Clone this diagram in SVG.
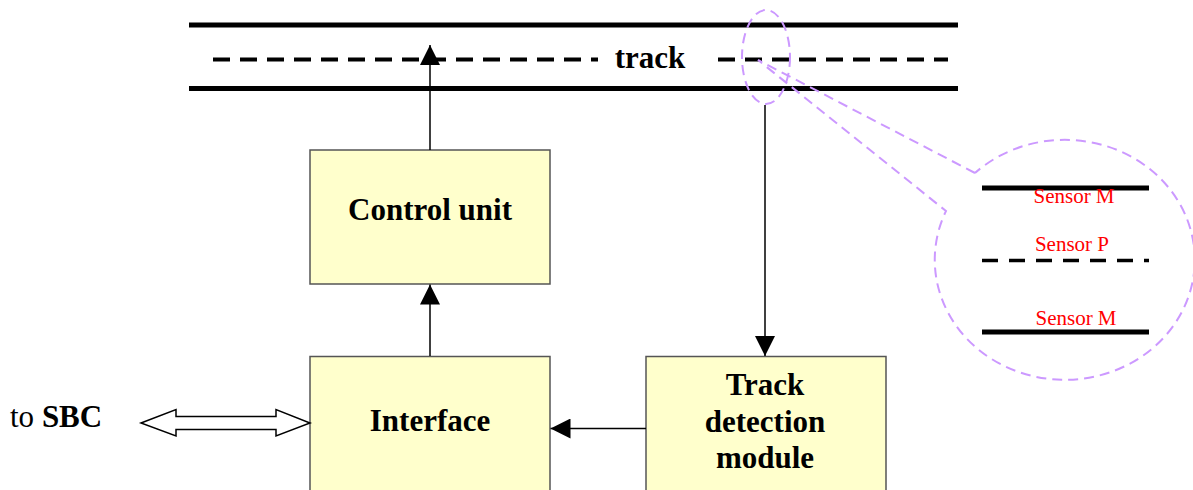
<svg xmlns="http://www.w3.org/2000/svg" width="1193" height="490" viewBox="0 0 1193 490">
  <style>
    .box { fill: #FFFFCC; stroke: #555555; stroke-width: 1.5; }
    .lbl { font-family: "Liberation Serif", "Times New Roman", serif; font-weight: bold; font-size: 31px; fill: #000; text-anchor: middle; }
    .plain { font-family: "Liberation Serif", "Times New Roman", serif; font-size: 31px; fill: #000; }
    .sensor { font-family: "Liberation Serif", "Times New Roman", serif; font-size: 21px; fill: #FF0000; text-anchor: middle; }
    .rail { stroke: #000; stroke-width: 5; }
    .dash { stroke: #000; stroke-width: 4; stroke-dasharray: 17 10; }
    .wire { stroke: #000; stroke-width: 1.5; fill: none; }
    .callout { fill: none; stroke: #CC99FF; stroke-width: 2; stroke-dasharray: 10 6; }
  </style>
  <defs>
    <marker id="head" markerUnits="userSpaceOnUse" markerWidth="20" markerHeight="20" viewBox="0 0 20 20" refX="20" refY="10" orient="auto">
      <path d="M0,0 L20,10 L0,20 Z" fill="#000"/>
    </marker>
  </defs>

  <!-- track -->
  <g id="track">
    <line class="rail" x1="189" y1="25" x2="958" y2="25"/>
    <line class="rail" x1="189" y1="88.5" x2="958" y2="88.5"/>
    <line class="dash" x1="213" y1="59.5" x2="598" y2="59.5"/>
    <line class="dash" x1="718" y1="59.5" x2="948" y2="59.5"/>
    <text class="lbl" x="650" y="68">track</text>
  </g>

  <!-- magnified sensor view -->
  <g id="sensor-detail">
    <path class="callout" d="M975,173 L758,60 L946,211 A130,120 0 1 0 975,173"/>
    <ellipse class="callout" cx="766" cy="57" rx="24" ry="47"/>
    <line class="rail" x1="982" y1="188" x2="1149" y2="188"/>
    <line stroke="#000" stroke-width="3.5" stroke-dasharray="16 11" x1="982" y1="260.5" x2="1149" y2="260.5"/>
    <line class="rail" x1="982" y1="332" x2="1149" y2="332"/>
    <text class="sensor" x="1074" y="203">Sensor M</text>
    <text class="sensor" x="1072" y="251">Sensor P</text>
    <text class="sensor" x="1076" y="325">Sensor M</text>
  </g>

  <g id="control-unit">
    <rect class="box" x="310" y="150" width="240" height="134"/>
    <text class="lbl" x="430" y="220">Control unit</text>
  </g>

  <g id="interface">
    <rect class="box" x="310" y="356.5" width="240" height="150"/>
    <text class="lbl" x="430" y="431">Interface</text>
  </g>

  <g id="track-detection">
    <rect class="box" x="646" y="356.5" width="240" height="150"/>
    <text class="lbl" x="765" y="395">Track</text>
    <text class="lbl" x="765" y="432">detection</text>
    <text class="lbl" x="765" y="468">module</text>
  </g>

  <g id="sbc">
    <text class="plain" x="10" y="427">to <tspan font-weight="bold">SBC</tspan></text>
  </g>

  <!-- connectors -->
  <g id="connectors">
    <line class="wire" x1="430" y1="150" x2="430" y2="45" marker-end="url(#head)"/>
    <line class="wire" x1="430" y1="356" x2="430" y2="284.5" marker-end="url(#head)"/>
    <line class="wire" x1="765" y1="105" x2="765" y2="356" marker-end="url(#head)"/>
    <line class="wire" x1="646" y1="428.5" x2="550.5" y2="428.5" marker-end="url(#head)"/>
    <polygon fill="#FFFFFF" stroke="#000" stroke-width="1.5" points="141,423 176,409.5 176,416.5 276,416.5 276,409.5 310,423 276,436 276,429.5 176,429.5 176,436"/>
  </g>
</svg>
